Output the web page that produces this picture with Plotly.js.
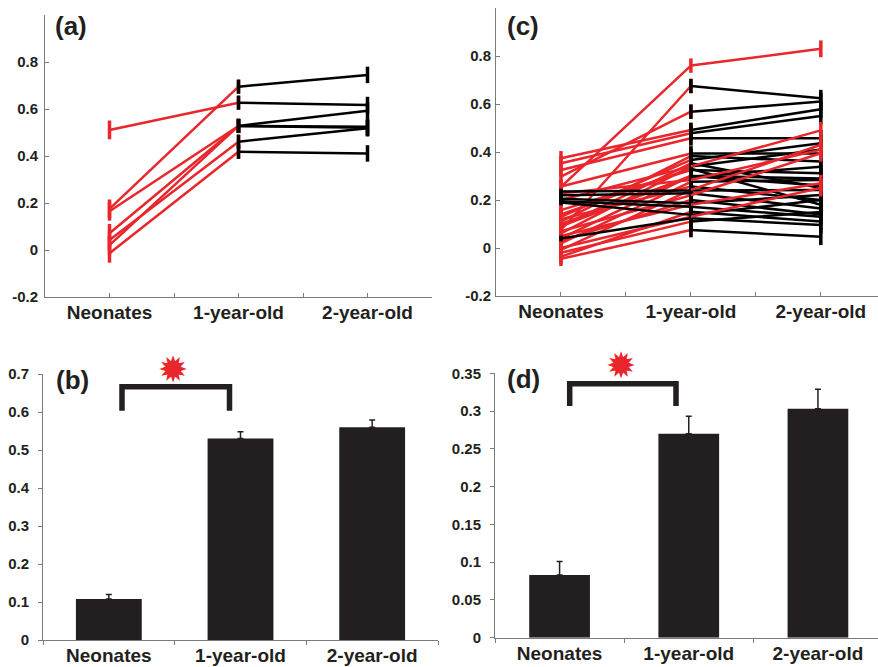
<!DOCTYPE html>
<html><head><meta charset="utf-8">
<script src="https://cdn.plot.ly/plotly-3.0.1.min.js"></script>
<style>html,body{margin:0;padding:0;background:#fff}#chart{width:878px;height:667px}</style>
</head><body><div id="chart"></div>
<script>
const categories = ['Neonates', '1-year-old', '2-year-old'];

// Panel (a): individual subjects
const aNeo = [0.511, 0.175, 0.165, 0.071, 0.043, 0.021, -0.014];
const a1y  = [0.627, 0.695, 0.528, 0.528, 0.461, 0.528, 0.418];
const a2y  = [0.617, 0.745, 0.593, 0.525, 0.518, 0.520, 0.411];
const aCol01 = ['r','r','r','r','r','r','r'];
const aCol12 = ['k','k','k','k','k','k','k'];
const aErr = [0.04, 0.03, 0.035];

// Panel (c): individual subjects
const cNeo = [0.255, 0.075, 0.297, 0.374, 0.353, 0.325, 0.256, 0.110, 0.130, 0.089, 0.200, 0.061, 0.158, 0.040, 0.100, 0.228, 0.019, 0.235, 0.120, -0.008, 0.220, 0.070, 0.205, 0.050, 0.195, -0.036, 0.190, 0.040, 0.000, -0.020, -0.045, 0.090, 0.140, 0.030];
const c1y  = [0.760, 0.675, 0.568, 0.492, 0.478, 0.457, 0.394, 0.383, 0.367, 0.353, 0.340, 0.340, 0.325, 0.300, 0.297, 0.283, 0.276, 0.240, 0.256, 0.242, 0.228, 0.220, 0.186, 0.180, 0.172, 0.151, 0.138, 0.124, 0.130, 0.110, 0.075, 0.300, 0.330, 0.200];
const c2y  = [0.830, 0.624, 0.610, 0.578, 0.550, 0.457, 0.394, 0.360, 0.436, 0.250, 0.490, 0.410, 0.311, 0.260, 0.339, 0.410, 0.283, 0.242, 0.200, 0.430, 0.165, 0.395, 0.221, 0.270, 0.130, 0.110, 0.200, 0.096, 0.250, 0.150, 0.047, 0.290, 0.180, 0.140];
const cCol01 = ['r','r','r','r','r','r','r','r','r','r','r','r','r','r','r','r','r','k','r','r','k','r','k','r','k','r','k','k','r','r','r','r','r','r'];
const cCol12 = ['r','k','k','k','k','k','k','k','k','k','r','k','k','k','k','r','k','k','k','r','k','r','k','r','k','k','k','k','r','k','k','k','k','k'];
const cErr = [0.03, 0.03, 0.035];

// Panels (b) and (d): group means with error
const bMean = [0.108, 0.530, 0.560];
const bErr  = [0.012, 0.018, 0.019];
const dMean = [0.083, 0.270, 0.303];
const dErr  = [0.018, 0.023, 0.026];

const yTicksA = [-0.2, 0, 0.2, 0.4, 0.6, 0.8];
const yTickTextA = ['-0.2', '0', '0.2', '0.4', '0.6', '0.8'];
const yTicksB = [0, 0.1, 0.2, 0.3, 0.4, 0.5, 0.6, 0.7];
const yTickTextB = ['0', '0.1', '0.2', '0.3', '0.4', '0.5', '0.6', '0.7'];
const yTicksD = [0, 0.05, 0.1, 0.15, 0.2, 0.25, 0.3, 0.35];
const yTickTextD = ['0', '0.05', '0.1', '0.15', '0.2', '0.25', '0.3', '0.35'];
const xTickPos = [1, 1.5, 2, 2.5, 3, 3.5];
const xTickText = [categories[0], '', categories[1], '', categories[2], ''];

const RED = '#e8262b', BLK = '#000000', DARK = '#231f20', AX = '#7a7a7a';
const FONT = 'Liberation Sans, Arial, sans-serif';

function segTrace(neo, y1, y2, colArr, interval, colKey, err, xa, ya, showStartErr) {
  const x = [], y = [], e = [];
  for (let i = 0; i < neo.length; i++) {
    if (colArr[i] !== colKey) continue;
    if (interval === 0) {
      x.push(1, 2, null); y.push(neo[i], y1[i], null); e.push(err[0], err[1], null);
    } else {
      x.push(2, 3, null); y.push(y1[i], y2[i], null); e.push(showStartErr ? err[1] : 0, err[2], null);
    }
  }
  const c = colKey === 'r' ? RED : BLK;
  return {type: 'scatter', mode: 'lines', x: x, y: y, xaxis: xa, yaxis: ya,
    line: {color: c, width: 2.5}, hoverinfo: 'skip', showlegend: false, connectgaps: false,
    error_y: {type: 'data', array: e, visible: true, color: c, thickness: 3.5, width: 0}};
}

const traces = [
  segTrace(aNeo, a1y, a2y, aCol01, 0, 'r', aErr, 'x', 'y', true),
  segTrace(aNeo, a1y, a2y, aCol01, 0, 'k', aErr, 'x', 'y', true),
  segTrace(aNeo, a1y, a2y, aCol12, 1, 'k', aErr, 'x', 'y', true),
  segTrace(aNeo, a1y, a2y, aCol12, 1, 'r', aErr, 'x', 'y', false),
  segTrace(cNeo, c1y, c2y, cCol01, 0, 'r', cErr, 'x3', 'y3', true),
  segTrace(cNeo, c1y, c2y, cCol01, 0, 'k', [0.012, 0.03, 0.035], 'x3', 'y3', true),
  segTrace(cNeo, c1y, c2y, cCol12, 1, 'k', cErr, 'x3', 'y3', true),
  segTrace(cNeo, c1y, c2y, cCol12, 1, 'r', cErr, 'x3', 'y3', false),
  {type: 'bar', x: categories, y: bMean, xaxis: 'x2', yaxis: 'y2', width: 0.5,
   marker: {color: DARK, line: {width: 0}}, hoverinfo: 'skip', showlegend: false,
   error_y: {type: 'data', array: bErr, arrayminus: [0, 0, 0], symmetric: false, color: DARK, thickness: 1.5, width: 3}},
  {type: 'bar', x: categories, y: dMean, xaxis: 'x4', yaxis: 'y4', width: 0.47,
   marker: {color: DARK, line: {width: 0}}, hoverinfo: 'skip', showlegend: false,
   error_y: {type: 'data', array: dErr, arrayminus: [0, 0, 0], symmetric: false, color: DARK, thickness: 1.5, width: 3}}
];

const W = 878, H = 667;
const px = v => v / W, py = v => 1 - v / H;
const xLabFont = {family: FONT, size: 19, color: DARK, weight: 'bold'};
const yLabFont = {family: FONT, size: 15, color: DARK, weight: 'bold'};

function lineX(domain, range, anchor) {
  return {domain: domain, range: range, anchor: anchor, tickmode: 'array', tickvals: xTickPos, ticktext: xTickText,
    ticks: 'inside', ticklen: 4, tickcolor: AX, showline: true, linecolor: AX, linewidth: 1,
    showgrid: false, zeroline: false, tickfont: xLabFont, fixedrange: true, ticklabelstandoff: -2};
}
function lineY(domain, anchor, so) {
  return {domain: domain, range: [-0.2, 1.0], anchor: anchor, tickmode: 'array', tickvals: yTicksA, ticktext: yTickTextA,
    ticks: 'inside', ticklen: 4, tickcolor: AX, showline: true, linecolor: AX, linewidth: 1,
    showgrid: false, zeroline: false, tickfont: yLabFont, fixedrange: true, ticklabelstandoff: so};
}
function barX(domain, range, anchor) {
  return {domain: domain, range: range, anchor: anchor, type: 'category', tickson: 'boundaries',
    ticks: 'outside', ticklen: 4, tickcolor: AX, showline: true, linecolor: AX, linewidth: 1,
    showgrid: false, zeroline: false, tickfont: xLabFont, fixedrange: true, ticklabelstandoff: -2};
}
function barY(domain, range, tv, tt, anchor) {
  return {domain: domain, range: range, anchor: anchor, tickmode: 'array', tickvals: tv, ticktext: tt,
    ticks: 'outside', ticklen: 4, tickcolor: AX, showline: true, linecolor: AX, linewidth: 1,
    showgrid: false, zeroline: false, tickfont: yLabFont, fixedrange: true, ticklabelstandoff: 6};
}

function bracket(xl, xr, yTop, yBot) {
  return {type: 'path', xref: 'paper', yref: 'paper',
    path: `M${px(xl)},${py(yBot)} L${px(xl)},${py(yTop)} L${px(xr)},${py(yTop)} L${px(xr)},${py(yBot)}`,
    line: {color: DARK, width: 5.5}};
}
function panelLabel(t, x, y) {
  return {text: t, xref: 'paper', yref: 'paper', x: px(x), y: py(y), xanchor: 'center', yanchor: 'middle',
    showarrow: false, font: {family: FONT, size: 26, color: DARK, weight: 'bold'}};
}
function star(x, y) {
  return {text: '\u2739', xref: 'paper', yref: 'paper', x: px(x), y: py(y), xanchor: 'center', yanchor: 'middle',
    showarrow: false, font: {family: 'DejaVu Sans', size: 36, color: RED}};
}

const layout = {
  width: W, height: H, margin: {l: 0, r: 0, t: 0, b: 0},
  paper_bgcolor: '#ffffff', plot_bgcolor: '#ffffff', showlegend: false,
  font: {family: FONT, color: DARK},
  xaxis: lineX([px(45), px(432)], [0.5, 3.5], 'y'),
  yaxis: lineY([py(297), py(15)], 'x', 3),
  xaxis3: lineX([px(496), 1], [0.5, 3.44], 'y3'),
  yaxis3: lineY([py(296), py(8)], 'x3', 1),
  xaxis2: barX([px(43), px(438)], [-0.5, 2.5], 'y2'),
  yaxis2: barY([py(640), py(374)], [0, 0.7], yTicksB, yTickTextB, 'x2'),
  xaxis4: barX([px(495), 1], [-0.5, 2.465], 'y4'),
  yaxis4: barY([py(637.7), py(373.3)], [0, 0.35], yTicksD, yTickTextD, 'x4'),
  shapes: [bracket(122, 229.5, 386.8, 410.7), bracket(569.7, 676, 383.8, 406)],
  annotations: [
    panelLabel('(a)', 71, 26), panelLabel('(c)', 523, 26),
    panelLabel('(b)', 72, 380), panelLabel('(d)', 523, 379),
    star(173, 369.5), star(620.5, 365.5)
  ]
};

Plotly.newPlot('chart', traces, layout, {staticPlot: true, displayModeBar: false});
</script>
</body></html>
